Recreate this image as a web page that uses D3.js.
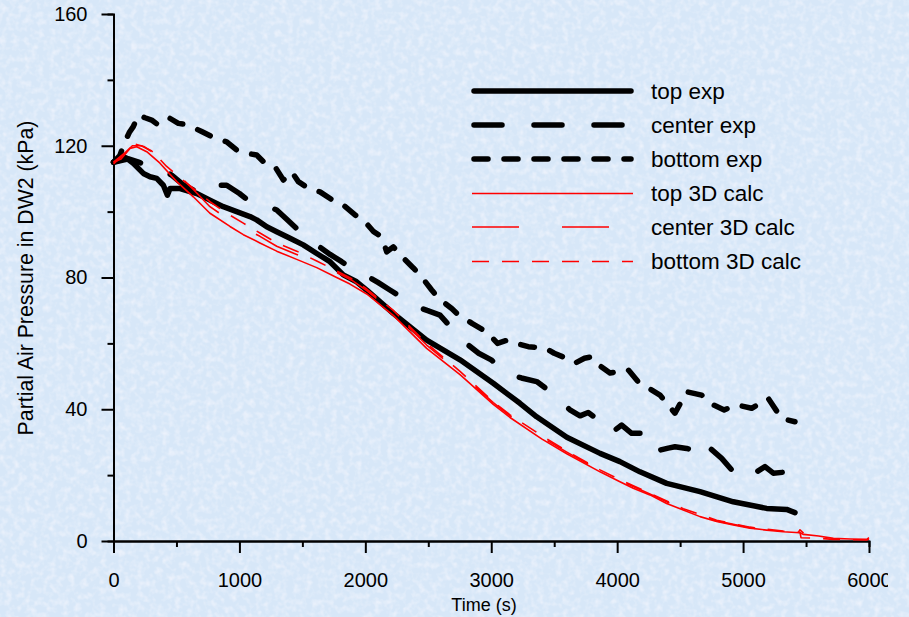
<!DOCTYPE html>
<html>
<head>
<meta charset="utf-8">
<script src="https://cdn.jsdelivr.net/npm/d3@7"></script>
<style>
  html, body { margin: 0; padding: 0; background: #d9e8f8; }
  svg { display: block; }
  text { font-family: "Liberation Sans", Arial, sans-serif; fill: #000; }
</style>
</head>
<body>
<svg id="chart" width="909" height="617"></svg>
<script>
// ---------------- DATA ----------------
const xTicksMajor = [0, 1000, 2000, 3000, 4000, 5000, 6000];
const xTicksMinor = [500, 1500, 2500, 3500, 4500, 5500];
const yTicksMajor = [0, 40, 80, 120, 160];
const yTicksMinor = [20, 60, 100, 140];

const seriesNames = ["top exp", "center exp", "bottom exp", "top 3D calc", "center 3D calc", "bottom 3D calc"];

const topExpT = [0, 40, 78, 105, 157, 237, 290, 343, 396, 428, 449, 528, 661, 766, 872, 978, 1084, 1137, 1217, 1296, 1402, 1507, 1614, 1719, 1825, 1931, 2011, 2222, 2487, 2752, 3016, 3228, 3361, 3600, 3864, 4022, 4181, 4393, 4658, 4922, 5187, 5346, 5412];
const topExpV = [115, 115.5, 116.7, 116.2, 114.7, 111.6, 110.6, 110.1, 108, 105, 107, 107, 105.5, 103.5, 101.5, 100, 98.5, 97.5, 95.4, 93.9, 91.9, 89.9, 87.3, 84.8, 80.8, 78.7, 76.2, 69.1, 61, 55, 47.9, 41.8, 37.7, 31.5, 26.6, 24.1, 21, 17.5, 15, 11.9, 9.9, 9.6, 8.6];

const centerExpT = [0, 60, 120, 200, 280, 369, 462, 560, 687, 766, 899, 1000, 1084, 1200, 1296, 1380, 1468, 1540, 1614, 1720, 1812, 1900, 1997, 2100, 2195, 2290, 2381, 2490, 2593, 2700, 2800, 2900, 3000, 3123, 3240, 3361, 3453, 3540, 3625, 3705, 3770, 3824, 3943, 3983, 4036, 4115, 4181, 4221, 4287, 4406, 4459, 4552, 4605, 4671, 4724, 4830, 4923, 5028, 5108, 5174, 5240, 5359, 5412];
const centerExpV = [115, 115.5, 116, 115, 114, 113.1, 111.1, 108, 105.5, 108, 108, 105.5, 103, 102, 100.5, 97.5, 94.4, 92, 89.9, 87, 84.8, 82.5, 80.8, 78.5, 76.2, 74, 71.6, 70, 68.6, 64, 60, 57, 55, 50.9, 49.5, 48.4, 45.8, 43, 39.8, 38, 39, 37.5, 37.3, 33.7, 35.2, 32.7, 32.7, 28.5, 27.1, 28.2, 28.6, 28.1, 27.6, 30.7, 28.6, 25.1, 21, 23.1, 21, 22.6, 20.6, 21, 20.5];

const bottomExpT = [0, 50, 91, 125, 157, 197, 250, 303, 356, 400, 449, 515, 570, 621, 700, 806, 899, 978, 1058, 1137, 1203, 1283, 1349, 1415, 1468, 1547, 1640, 1759, 1825, 1918, 1987, 2066, 2130, 2170, 2222, 2300, 2381, 2447, 2527, 2580, 2686, 2726, 2850, 2964, 3050, 3130, 3200, 3294, 3427, 3500, 3570, 3665, 3740, 3798, 3870, 3943, 4087, 4165, 4340, 4459, 4552, 4671, 4764, 4850, 4950, 5068, 5200, 5306, 5412];
const bottomExpV = [115, 117, 121.2, 124, 125.8, 129.3, 128.5, 127.8, 126.3, 127, 128.3, 126.8, 126.5, 125.8, 124.3, 122.3, 121.2, 118.7, 117.7, 117.2, 114.7, 113.6, 109.6, 112.1, 109.1, 107.1, 106, 103, 102, 99, 97.4, 93.9, 92.4, 87.8, 89.3, 86, 82.9, 80.2, 76.2, 73.7, 70.6, 69.1, 66, 63.5, 60, 61, 60, 59, 58.6, 57, 55.9, 54, 55.5, 55.9, 53, 51, 52, 48.4, 44.3, 38.8, 45.3, 44.3, 41.3, 39.8, 41.3, 40.3, 43.3, 37.2, 36.2];

const top3DT = [0, 60, 131, 184, 264, 369, 502, 634, 766, 925, 1031, 1163, 1296, 1455, 1614, 1772, 1878, 2011, 2222, 2487, 2752, 3016, 3149, 3400, 3600, 3864, 4022, 4128, 4260, 4393, 4525, 4658, 4790, 4922, 5055, 5187, 5319, 5452, 5480, 5600, 5717, 5850, 5982, 6000];
const top3DV = [115, 116, 119.2, 119.7, 118.2, 114.7, 109.1, 104.5, 99.5, 95.5, 93, 90.5, 88, 85.5, 83, 80, 78, 75, 68.5, 58.5, 50.5, 41.5, 37.5, 31, 26.5, 21, 18, 16, 14, 11.4, 9.4, 7.4, 5.9, 4.9, 3.9, 3.3, 2.8, 2.5, 2.0, 1.5, 0.8, 0.6, 0.5, 1.0];

const center3DT = [0, 80, 150, 220, 300, 400, 480, 560, 640, 766, 900, 1031, 1163, 1296, 1455, 1614, 1772, 1900, 2011, 2222, 2487, 2752, 3016, 3149, 3400, 3600, 3864, 4022, 4260, 4525, 4790, 5055, 5319, 5440, 5452, 5480];
const center3DV = [115, 117.5, 120, 120, 118.5, 115, 112.5, 109.5, 106.5, 101.5, 98, 95, 92.5, 89.5, 87, 84.5, 81.5, 79, 76, 69.5, 59.5, 51, 42, 38, 31.5, 27, 21.3, 18.3, 14.3, 9.6, 6.1, 4, 2.9, 2.7, 3.4, 2.4];

const bottom3DT = [0, 100, 170, 240, 330, 420, 520, 620, 766, 900, 1031, 1163, 1296, 1455, 1614, 1772, 1900, 2011, 2222, 2487, 2752, 3016, 3149, 3400, 3600, 3864, 4022, 4260, 4525, 4790, 5055, 5319, 5452, 5460, 5600, 5717, 5850, 5982, 6000];
const bottom3DV = [114.5, 118, 120.5, 119.8, 117.5, 113.8, 110.5, 107.5, 103, 99.5, 96.5, 93.5, 90.5, 88, 85, 82, 79.5, 76.5, 70, 60, 51.5, 42.3, 38.3, 32, 27.3, 21.6, 18.6, 14.5, 9.8, 6.3, 4.2, 3, 2.6, 1.0, 0.8, 0.5, 0.4, 0.3, 0.6];

// ---------------- DRAW ----------------
const svg = d3.select("#chart");
const W = 909, H = 617;

// textured light-blue background
const defs = svg.append("defs");
const f = defs.append("filter").attr("id", "tex").attr("x", 0).attr("y", 0).attr("width", 1).attr("height", 1);
f.append("feTurbulence").attr("type", "fractalNoise").attr("baseFrequency", 0.16).attr("numOctaves", 2).attr("seed", 3).attr("result", "n");
f.append("feColorMatrix").attr("in", "n").attr("type", "matrix")
  .attr("values", "0 0 0 0 1  0 0 0 0 0.97  0 0 0 0 1  1.8 0 0 0 -0.75");
defs.append("clipPath").attr("id", "clipR").append("rect").attr("x", 0).attr("y", 0).attr("width", 888).attr("height", H);

svg.append("rect").attr("width", W).attr("height", H).attr("fill", "#d7e7f8");
svg.append("rect").attr("width", W).attr("height", H).attr("filter", "url(#tex)").attr("opacity", 0.6);

const x = d3.scaleLinear().domain([0, 6000]).range([113.5, 869]);
const y = d3.scaleLinear().domain([0, 160]).range([541, 14]);

const root = svg.append("g").attr("clip-path", "url(#clipR)");

// axes
const axisStyle = g => {
  g.select(".domain").attr("stroke", "#000").attr("stroke-width", 2);
  g.selectAll(".tick line").attr("stroke", "#000").attr("stroke-width", 2);
  g.selectAll("text").attr("font-family", "Liberation Sans, Arial, sans-serif").attr("font-size", 20).attr("fill", "#000");
};

root.append("g").attr("transform", "translate(0,541)")
  .call(d3.axisBottom(x).tickValues(xTicksMinor).tickSize(6).tickFormat(""))
  .call(axisStyle);
root.append("g").attr("transform", "translate(0,541)")
  .call(d3.axisBottom(x).tickValues(xTicksMajor).tickSize(12).tickSizeOuter(0).tickPadding(20).tickFormat(d3.format("d")))
  .call(axisStyle);
root.append("g").attr("transform", "translate(113.5,0)")
  .call(d3.axisLeft(y).tickValues(yTicksMinor).tickSize(6).tickFormat(""))
  .call(axisStyle);
root.append("g").attr("transform", "translate(113.5,0)")
  .call(d3.axisLeft(y).tickValues(yTicksMajor).tickSize(12).tickSizeOuter(0).tickPadding(14).tickFormat(d3.format("d")))
  .call(axisStyle);

// axis titles
svg.append("text").attr("x", 484).attr("y", 611).attr("text-anchor", "middle").attr("font-size", 18).text("Time (s)");
svg.append("text").attr("transform", "translate(33,278) rotate(-90)").attr("text-anchor", "middle").attr("font-size", 21.3)
  .text("Partial Air Pressure in DW2 (kPa)");

// series
const styles = [
  { color: "#000", width: 5.5, dash: null, cap: "round" },
  { color: "#000", width: 5.5, dash: "28,32", cap: "round" },
  { color: "#000", width: 5.5, dash: "14,16", cap: "round" },
  { color: "#ff0000", width: 1.6, dash: null, cap: "butt" },
  { color: "#ff0000", width: 1.6, dash: "47,43", cap: "butt" },
  { color: "#ff0000", width: 1.6, dash: "17,13", cap: "butt" }
];
const seriesData = [
  d3.zip(topExpT, topExpV), d3.zip(centerExpT, centerExpV), d3.zip(bottomExpT, bottomExpV),
  d3.zip(top3DT, top3DV), d3.zip(center3DT, center3DV), d3.zip(bottom3DT, bottom3DV)
];
const line = d3.line().x(d => x(d[0])).y(d => y(d[1]));

seriesData.forEach((data, i) => {
  const s = styles[i];
  root.append("path").datum(data).attr("d", line)
    .attr("fill", "none").attr("stroke", s.color).attr("stroke-width", s.width)
    .attr("stroke-linejoin", "round").attr("stroke-linecap", s.cap)
    .attr("stroke-dasharray", s.dash);
});

// legend
const legRows = [91, 125, 159, 193.5, 227, 261.5];
const leg = svg.append("g");
seriesNames.forEach((name, i) => {
  const s = styles[i];
  leg.append("line").attr("x1", s.cap === "round" ? 474 : 472).attr("x2", s.cap === "round" ? 631 : 633)
    .attr("y1", legRows[i]).attr("y2", legRows[i])
    .attr("stroke", s.color).attr("stroke-width", s.width).attr("stroke-linecap", s.cap)
    .attr("stroke-dasharray", s.dash);
  leg.append("text").attr("x", 651).attr("y", legRows[i]).attr("dy", "0.35em")
    .attr("font-size", 22.5).text(name);
});
</script>
</body>
</html>
